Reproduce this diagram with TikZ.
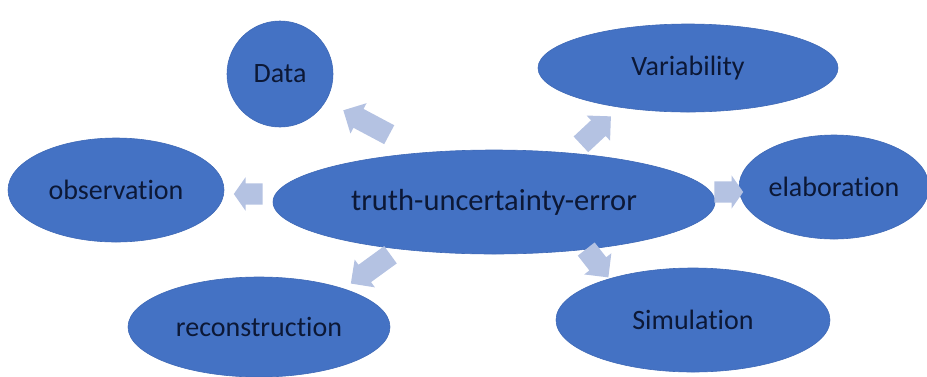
\documentclass[tikz,border=0pt]{standalone}
\usepackage{fontspec}
\setmainfont{Carlito}[Ligatures=NoCommon]
\usetikzlibrary{shapes.geometric,shapes.arrows}
\definecolor{fillblue}{HTML}{4472C4}
\definecolor{edgeblue}{HTML}{3F69B6}
\definecolor{txt}{HTML}{0C1836}
\definecolor{arr}{HTML}{B4C2E2}
\tikzset{
  bubble/.style={ellipse, fill=fillblue, draw=edgeblue, line width=0.6pt, inner sep=0pt, text=txt, font=\fontsize{28}{30}\selectfont},
  blockarrow/.style={single arrow, fill=arr, draw=none, inner sep=#1, single arrow tip angle=90},
}
\begin{document}
\begin{tikzpicture}[x=1pt,y=-1pt]
\useasboundingbox (0,0) rectangle (927,376);
\node[bubble, minimum width=106pt, minimum height=106pt] (data) at (280,74) {Data};
\node[bubble, minimum width=300pt, minimum height=88pt] (var) at (688,68) {Variability};
\node[bubble, minimum width=216pt, minimum height=104pt] (obs) at (116,190) {observation};
\node[bubble, minimum width=442pt, minimum height=104pt, font=\fontsize{30.5}{32}\selectfont] (tue) at (494,202) {truth-uncertainty-error};
\node[bubble, minimum width=190pt, minimum height=104pt] (elab) at (834,187) {elaboration};
\node[bubble, minimum width=262pt, minimum height=100pt] (rec) at (259,327) {reconstruction};
\node[bubble, minimum width=274pt, minimum height=104pt] (sim) at (693,320) {Simulation};
% block arrows
\node[blockarrow=10.5pt, minimum height=52pt, single arrow head extend=6.5pt, rotate=152] (a1) at (371,125) {};
\node[blockarrow=10.5pt, minimum height=41pt, single arrow head extend=6.5pt, rotate=43] (a2) at (592,134) {};
\node[blockarrow=10.5pt, minimum height=25pt, single arrow head extend=6pt, single arrow tip angle=110, rotate=180] (a3) at (252,194) {};
\node[blockarrow=10.5pt, minimum height=20pt, single arrow head extend=6pt, single arrow tip angle=110, rotate=0] (a4) at (725,192) {};
\node[blockarrow=10.5pt, minimum height=49pt, single arrow head extend=6.5pt, rotate=216] (a5) at (375,266) {};
\node[blockarrow=10.5pt, minimum height=36pt, single arrow head extend=6.5pt, rotate=-52] (a6) at (594,259) {};
\end{tikzpicture}
\end{document}
